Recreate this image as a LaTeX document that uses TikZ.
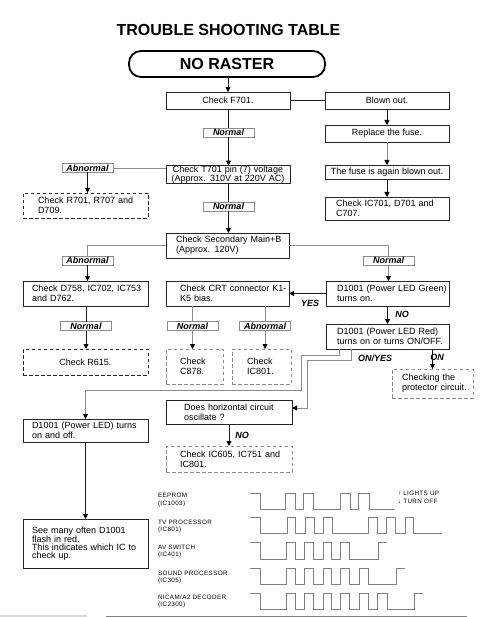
\documentclass[tikz,border=0pt]{standalone}
\usepackage{fontspec}
\setmainfont{Liberation Sans}
\usetikzlibrary{arrows.meta}
\begin{document}
\begin{tikzpicture}[x=1pt,y=-1pt,
  every node/.style={inner sep=0pt, outer sep=0pt},
  box/.style={draw=black!85, line width=0.8pt, font=\fontsize{9}{10.3}\selectfont},
  dbox/.style={box, dash pattern=on 3.5pt off 2.5pt},
  gbox/.style={dbox, draw=black!45},
  lab/.style={draw=black!45, line width=0.8pt, minimum width=51, minimum height=9, font=\fontsize{9}{9}\selectfont\bfseries\itshape},
  tag/.style={font=\fontsize{9}{9}\selectfont\bfseries\itshape},
  wl/.style={font=\fontsize{6.3}{7}\selectfont\addfontfeatures{LetterSpace=6}, anchor=west},
  ln/.style={draw=black!90, line width=0.8pt},
  gln/.style={draw=black!45, line width=0.8pt},
  arr/.style={ln, -{Triangle[length=5pt,width=5pt,color=black]}},
  garr/.style={gln, -{Triangle[length=5pt,width=5pt,color=black]}},
  wave/.style={draw=black!50, line width=0.8pt}
]
\useasboundingbox (0,0) rectangle (494,617);

% title
\node[font=\fontsize{16}{16}\selectfont\bfseries] (title) at (228.5,30) {TROUBLE SHOOTING TABLE};
\node[draw, line width=1.8pt, rounded corners=12pt, minimum width=196, minimum height=26,
      font=\fontsize{16}{16}\selectfont\bfseries] (noraster) at (227,64) {NO RASTER};

% right column
\node[box, minimum width=124, minimum height=17] (f701) at (228,100.5) {Check F701.};
\node[box, minimum width=124, minimum height=17] (blown) at (387,100.5) {Blown out.};
\node[box, minimum width=124, minimum height=17] (replace) at (387,133.5) {Replace the fuse.};
\node[box, minimum width=124, minimum height=14] (again) at (387,172) {The fuse is again blown out.};
\node[box, text width=102, inner xsep=11, minimum height=23, align=left] (ic701) at (387,208.5) {\mbox{Check IC701, D701 and}\\C707.};

% main column
\node[lab] (n1) at (228.5,132.5) {Normal};
\node[box, font=\fontsize{9}{7.6}\selectfont, text width=124, minimum height=17, align=center] (t701) at (228,174.5) {\mbox{Check T701 pin (7) voltage}\\\mbox{(Approx. 310V at 220V AC)}};
\node[lab] (a1) at (87.5,168) {Abnormal};
\node[dbox, text width=95, inner xsep=15, minimum height=25, align=left] (r701) at (85.5,205.5) {\mbox{Check R701, R707 and}\\D709.};
\node[lab] (n2) at (228.5,206.5) {Normal};
\node[box, text width=103, inner xsep=10, minimum height=25, align=left] (sec) at (227.5,245.5) {\mbox{Check Secondary Main+B}\\(Approx. 120V)};
\node[lab] (a2) at (87.5,260.5) {Abnormal};
\node[lab] (n3) at (388.5,260.5) {Normal};
\node[box, text width=107, inner xsep=9, minimum height=25, align=left] (d758) at (85.5,293.5) {\mbox{Check D758, IC702, IC753}\\and D762.};
\node[box, text width=95, inner xsep=14, minimum height=25, align=left] (crt) at (227.5,293.5) {\mbox{Check CRT connector K1-}\\K5 bias.};
\node[box, text width=101, inner xsep=11, minimum height=25, align=left] (green) at (387.5,293.5) {\mbox{D1001 (Power LED Green)}\\turns on.};
\node[box, text width=101, inner xsep=11, minimum height=25, align=left] (red) at (387.5,336.5) {\mbox{D1001 (Power LED Red)}\\\mbox{turns on or turns ON/OFF.}};
\node[lab] (n4) at (86,326) {Normal};
\node[lab] (n5) at (192.5,326) {Normal};
\node[lab] (a3) at (265,326) {Abnormal};
\node[dbox, minimum width=125, minimum height=26] (r615) at (85.5,362) {Check R615.};
\node[gbox, text width=29, inner xsep=14, minimum height=35, align=left] (c878) at (194.5,366.5) {Check\\C878.};
\node[gbox, text width=29, inner xsep=15, minimum height=35, align=left] (ic801) at (261.5,366.5) {Check\\IC801.};
\node[gbox, text width=61, inner xsep=10, minimum height=29, align=left] (prot) at (432.5,383.5) {Checking the\\\mbox{protector circuit.}};
\node[box, text width=107, inner xsep=9, minimum height=23, align=left] (led) at (85.5,430.5) {\mbox{D1001 (Power LED) turns}\\on and off.};
\node[box, text width=90, inner xsep=18, minimum height=24, align=left] (horiz) at (229,412) {\mbox{Does horizontal circuit}\\oscillate ?};
\node[gbox, text width=98, inner xsep=14, minimum height=26, align=left] (ic605) at (229,459) {\mbox{Check IC605, IC751 and}\\IC801.};
\node[box, font=\fontsize{9}{7.6}\selectfont, text width=107, inner xsep=9, minimum height=49, align=left] (seemany) at (85.5,543.5) {\mbox{See many often D1001}\\flash in red.\\\mbox{This indicates which IC to}\\check up.};

% tags
\node[tag] (yes) at (310,303) {YES};
\node[tag] (no1) at (402,314) {NO};
\node[tag] (onyes) at (375,358) {ON/YES};
\node[tag] (on) at (437,357) {ON};
\node[tag] (no2) at (242,435) {NO};

% connectors
\draw[arr] (f701.north |- noraster.south) -- (f701.north);
\draw[ln] (f701.east) -- (blown.west);
\draw[arr] (blown.south) -- (replace.north);
\draw[garr] (replace.south) -- (again.north);
\draw[arr] (again.south) -- (ic701.north);
\draw[ln] (f701.south -| n1.north) -- (n1.north);
\draw[arr] (n1.south) -- (n1.south |- t701.north);
\draw[gln] (a1.east) -- (a1.east -| t701.west);
\draw[arr] (a1.south) -- (a1.south |- r701.north);
\draw[ln] (t701.south -| n2.north) -- (n2.north);
\draw[arr] (n2.south) -- (n2.south |- sec.north);
\draw[gln] (sec.west) -| (a2.north);
\draw[arr] (a2.south) -- (a2.south |- d758.north);
\draw[gln] (sec.east) -| (n3.north);
\draw[garr] (n3.south) -- (n3.south |- green.north);
\draw[arr] (green.west) -- (crt.east);
\draw[arr] (green.south) -- (red.north);
\draw[ln] (n4.north |- d758.south) -- (n4.north);
\draw[arr] (n4.south) -- (n4.south |- r615.north);
\draw[gln] (n5.north |- crt.south) -- (n5.north);
\draw[garr] (n5.south) -- (n5.south |- c878.north);
\draw[gln] (a3.north |- crt.south) -- (a3.north);
\draw[garr] (a3.south) -- (a3.south |- ic801.north);
\draw[garr] ([xshift=13pt]red.south west) -- ++(0,6) -| (301,390) -| (led.north);
\draw[garr] ([xshift=25pt]red.south west) -- ++(0,11) -| (307,408) -- ([yshift=4pt]horiz.east);
\draw[arr] (prot.north |- red.south) -- (prot.north);
\draw[arr] (horiz.south) -- (ic605.north);
\draw[arr] (led.south) -- (seemany.north);

% waveform labels
\node[wl] (w1) at (158,495) {EEPROM};
\node[wl] (w1b) at (158,504) {(IC1003)};
\node[wl] (w2) at (158,522) {TV PROCESSOR};
\node[wl] (w2b) at (158,530) {(IC801)};
\node[wl] (w3) at (158,547) {AV SWITCH};
\node[wl] (w3b) at (158,555) {(IC401)};
\node[wl] (w4) at (158,573) {SOUND PROCESSOR};
\node[wl] (w4b) at (158,581) {(IC305)};
\node[wl] (w5) at (158,597) {NICAM/A2 DECODER};
\node[wl] (w5b) at (158,605) {(IC2300)};
\node[wl] (lu) at (398,493) {↑ LIGHTS UP};
\node[wl] (to) at (398,501) {↓ TURN OFF};

% waveforms
\draw[wave] (250,493) -| (260,509) -| (285,493) -| (295,509) -| (303,493) -| (313,509) -| (340,493) -| (350,509) -| (358,493) -| (369,509) -- (395,509);
\draw[wave] (250,517) -| (260,533) -| (287,517) -| (295,533) -| (305,517) -| (314,533) -| (323,517) -| (332,533) -| (368,517) -| (377,533) -| (386,517) -| (395,533) -| (405,517) -| (413,533) -- (442,533);
\draw[wave] (250,542) -| (260,559) -| (286,542) -| (295,559) -| (304,542) -| (313,559) -| (323,542) -| (331,559) -| (340,542) -| (349,559) -| (378,542) -- (387,542);
\draw[wave] (250,568) -| (260,584) -| (286,568) -| (295,584) -| (304,568) -| (313,584) -| (323,568) -| (331,584) -| (340,568) -| (349,584) -| (359,568) -| (368,584) -| (396,568) -- (405,568);
\draw[wave] (250,593) -| (260,609) -| (286,593) -| (295,609) -| (304,593) -| (313,609) -| (323,593) -| (331,609) -| (340,593) -| (349,609) -| (359,593) -| (368,609) -| (377,593) -| (387,609) -| (414,593) -- (423,593);

% bottom rule
\draw[draw=black!15, line width=2pt] (0,616) -- (87,616);
\draw[draw=black!50, line width=0.8pt] (106,616) -- (467,616);
\end{tikzpicture}
\end{document}
